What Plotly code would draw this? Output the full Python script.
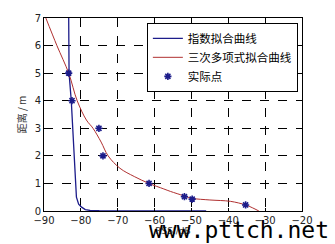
import plotly.graph_objects as go

# Measured points
pts_x = [-83.3, -82.4, -75.1, -74.0, -61.5, -51.9, -49.8, -35.3]
pts_y = [5.0, 4.0, 3.0, 2.0, 1.0, 0.52, 0.43, 0.22]

# Exponential fit curve
exp_x = [-83.4, -83.3, -83.2, -82.6, -82.2, -81.9, -81.6, -81.2, -80.6, -79.8, -78.8, -77.5, -75.0, -70.0, -60.0, -50.0, -46.0]
exp_y = [9.0, 7.0, 5.0, 4.0, 3.0, 2.0, 1.1, 0.5, 0.25, 0.14, 0.05, 0.02, 0.01, 0.0, 0.0, 0.0, 0.0]

# Cubic polynomial fit curve
cub_x = [-89.5, -86.5, -83.3, -81.0, -78.5, -76.7, -74.5, -72.6, -69.4, -65.5, -61.5, -57.5, -55.7, -52.0, -49.8, -45.0, -39.4, -35.3, -33.5, -31.7]
cub_y = [7.0, 6.0, 5.0, 4.0, 3.3, 3.0, 2.5, 2.0, 1.55, 1.25, 1.0, 0.8, 0.71, 0.55, 0.46, 0.4, 0.35, 0.22, 0.12, 0.0]

x_ticks = [-90, -80, -70, -60, -50, -40, -30, -20]
y_ticks = [0, 1, 2, 3, 4, 5, 6, 7]

names = ["指数拟合曲线", "三次多项式拟合曲线", "实际点"]

fig = go.Figure()
fig.add_trace(go.Scatter(x=exp_x, y=exp_y, mode="lines", name=names[0],
                         line=dict(color="#1c1c8a", width=1.3)))
fig.add_trace(go.Scatter(x=cub_x, y=cub_y, mode="lines", name=names[1],
                         line=dict(color="#b03030", width=1, shape="spline")))
fig.add_trace(go.Scatter(x=pts_x, y=pts_y, mode="markers", name=names[2],
                         marker=dict(symbol="asterisk-open", size=6, color="#1c1c8a",
                                     line=dict(color="#1c1c8a", width=1.6))))

axis_common = dict(showline=True, linecolor="black", linewidth=1, mirror=True,
                   showgrid=True, gridcolor="black", griddash="dash", gridwidth=1,
                   ticks="inside", ticklen=3, tickcolor="black", zeroline=False,
                   tickfont=dict(family="DejaVu Sans", size=10, color="#222"))

fig.update_xaxes(range=[-90, -20], tickvals=x_ticks, **axis_common,
                 title=dict(text="RSSI/dB", font=dict(family="DejaVu Sans", size=9, color="#333"), standoff=0))
fig.update_yaxes(range=[0, 7], tickvals=y_ticks, **axis_common,
                 title=dict(text="距离 / m", font=dict(family="Noto Sans CJK SC", size=10, color="#333"), standoff=6))

fig.update_layout(
    width=335, height=244,
    margin=dict(l=44, r=33, t=18, b=30),
    paper_bgcolor="white", plot_bgcolor="white",
    showlegend=True,
    legend=dict(x=0.984, y=0.975, xanchor="right", yanchor="top",
                bgcolor="white", bordercolor="black", borderwidth=1,
                font=dict(family="Noto Sans CJK SC", size=11.5, color="black"),
                itemwidth=30, tracegroupgap=0),
    annotations=[dict(text="www.pttch.net", xref="paper", yref="paper",
                      x=1.112, y=-0.02, xanchor="right", yanchor="top",
                      showarrow=False,
                      font=dict(family="DejaVu Sans Mono", size=23, color="black"))],
)

fig.write_html("out.html")
